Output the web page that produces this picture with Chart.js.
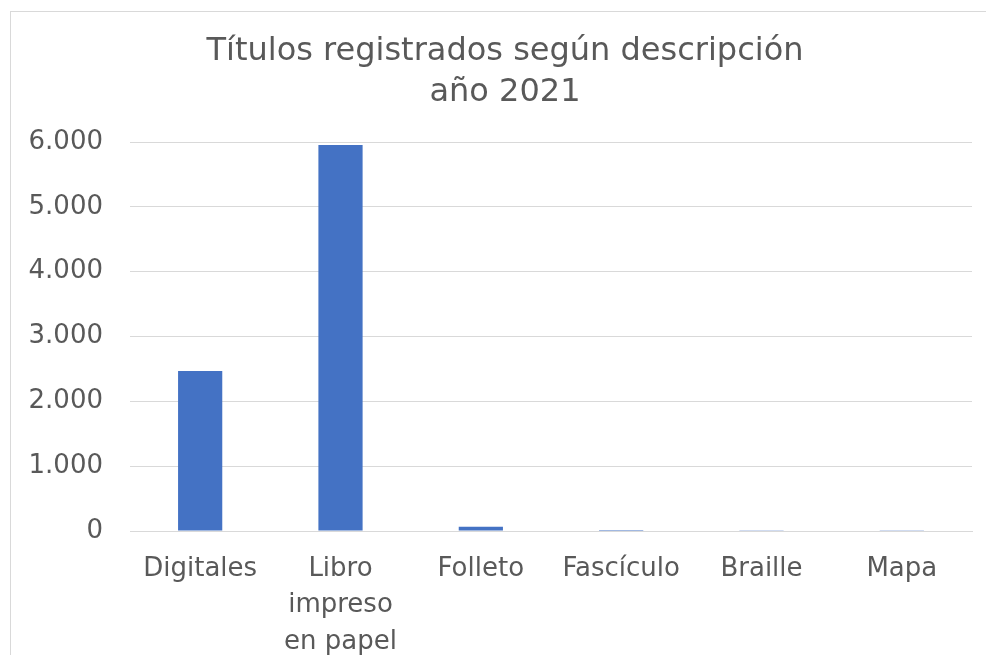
<!DOCTYPE html>
<html><head><meta charset="utf-8">
<script src="https://cdn.jsdelivr.net/npm/chart.js@4/dist/chart.umd.min.js"></script>
<style>
html,body{margin:0;padding:0;background:#fff;overflow:hidden}
#frame{position:absolute;left:10px;top:11px;width:1100px;height:700px;border:1px solid #d9d9d9;box-sizing:border-box}
#wrap{position:absolute;left:0;top:0;width:986px;height:655px}
</style></head><body>
<div id="frame"></div>
<div id="wrap"><canvas id="c" width="986" height="655"></canvas></div>
<script>
const categories = [["Digitales"], ["Libro","impreso","en papel"], ["Folleto"], ["Fascículo"], ["Braille"], ["Mapa"]];
const values = [2468, 5954, 66, 15, 3, 10];
const titleLines = ["Títulos registrados según descripción", "año 2021"];
const yTicks = [0, 1000, 2000, 3000, 4000, 5000, 6000];

const FONT = "'DejaVu Sans', Verdana, sans-serif";
function fmtNum(v){ return String(v).replace(/\B(?=(\d{3})+(?!\d))/g, '.'); }

const titlePlugin = {
  id: 'ownTitle',
  afterDraw(chart) {
    const ctx = chart.ctx;
    ctx.save();
    ctx.fillStyle = '#595959';
    ctx.font = "32px " + FONT;
    ctx.textAlign = 'center';
    ctx.textBaseline = 'middle';
    titleLines.forEach((t, i) => ctx.fillText(t, 505, 52 + i * 41));
    ctx.restore();
  }
};

new Chart(document.getElementById('c'), {
  type: 'bar',
  data: {
    labels: categories,
    datasets: [{
      data: values,
      backgroundColor: '#4472C4',
      borderWidth: 0,
      barPercentage: 0.315,
      categoryPercentage: 1
    }]
  },
  plugins: [titlePlugin],
  options: {
    responsive: false,
    animation: false,
    layout: { padding: { left: 0, right: 14, top: 142, bottom: 0 } },
    plugins: {
      legend: { display: false },
      tooltip: { enabled: false },
      title: { display: false }
    },
    scales: {
      y: {
        min: 0, max: 6000,
        afterBuildTicks: s => { s.ticks = yTicks.map(v => ({ value: v })); },
        afterFit: s => { s.width = 130; },
        grid: { color: '#d9d9d9', lineWidth: 1, drawTicks: false },
        border: { display: false },
        ticks: {
          color: '#595959', padding: 27,
          font: { family: FONT, size: 26 },
          callback: v => fmtNum(v)
        }
      },
      x: {
        afterFit: s => { s.height = 124; },
        grid: { display: false, drawTicks: false },
        border: { display: true, color: '#d9d9d9', width: 1 },
        ticks: {
          color: '#595959', padding: 20, maxRotation: 0, autoSkip: false,
          font: { family: FONT, size: 26, lineHeight: 1.4 }
        }
      }
    }
  }
});
</script>
</body></html>
